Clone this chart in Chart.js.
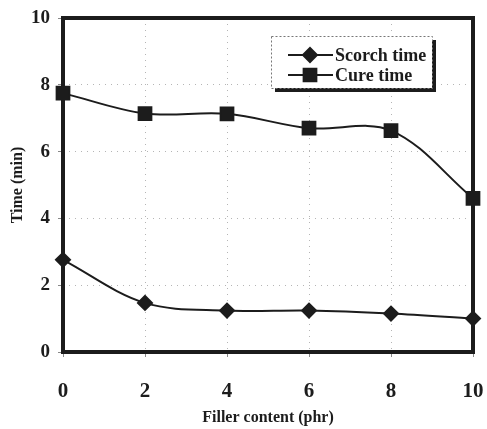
<!DOCTYPE html>
<html>
<head>
<meta charset="utf-8">
<script src="https://cdn.jsdelivr.net/npm/chart.js@4/dist/chart.umd.min.js"></script>
<style>
  html, body { margin: 0; padding: 0; background: #fff; }
  #wrap { width: 487px; height: 429px; }
</style>
</head>
<body>
<div id="wrap"><canvas id="c" width="487" height="429"></canvas></div>
<script>
const fillerContent = [0, 2, 4, 6, 8, 10];
const scorchTime = [2.76, 1.47, 1.24, 1.24, 1.15, 1.0];
const cureTime = [7.75, 7.14, 7.13, 6.70, 6.63, 4.60];
const yTicks = [0, 2, 4, 6, 8, 10];
const xTicks = [0, 2, 4, 6, 8, 10];

const serif = '"Liberation Serif", "Times New Roman", serif';
const ink = '#1c1c1c';

const toPoints = (xs, ys) => xs.map((x, i) => ({ x, y: ys[i] }));

// Thick plot frame plus the boxed legend with a drop shadow
const framePlugin = {
  id: 'frame',
  afterDatasetsDraw(chart) {
    const { ctx, chartArea: a } = chart;
    ctx.save();
    ctx.strokeStyle = ink;
    ctx.lineWidth = 4;
    ctx.strokeRect(a.left, a.top, a.right - a.left, a.bottom - a.top);
    ctx.restore();
  },
  afterDraw(chart) {
    const { ctx } = chart;
    const bx = 271, by = 36, bw = 161, bh = 52;
    ctx.save();
    ctx.fillStyle = ink;
    ctx.fillRect(bx + 4, by + 4, bw, bh);
    ctx.fillStyle = '#fff';
    ctx.fillRect(bx, by, bw, bh);
    ctx.setLineDash([2, 2]);
    ctx.strokeStyle = '#777';
    ctx.lineWidth = 1;
    ctx.strokeRect(bx + 0.5, by + 0.5, bw, bh);
    ctx.setLineDash([]);
    const rows = [55, 75];
    chart.data.datasets.forEach((ds, i) => {
      const y = rows[i];
      ctx.strokeStyle = ink;
      ctx.lineWidth = 2;
      ctx.beginPath();
      ctx.moveTo(288, y);
      ctx.lineTo(333, y);
      ctx.stroke();
      Chart.helpers.drawPoint(ctx, {
        pointStyle: ds.pointStyle,
        radius: ds.pointRadius,
        borderWidth: 1
      }, 310, y);
      ctx.fillStyle = ink;
      ctx.fill();
      ctx.font = 'bold 18px ' + serif;
      ctx.textBaseline = 'middle';
      ctx.fillText(ds.label, 335, y + 1);
    });
    ctx.restore();
  }
};

new Chart(document.getElementById('c'), {
  type: 'line',
  data: {
    datasets: [
      {
        label: 'Scorch time',
        data: toPoints(fillerContent, scorchTime),
        borderColor: ink,
        backgroundColor: ink,
        borderWidth: 2,
        pointStyle: 'rectRot',
        pointRadius: 7,
        pointHoverRadius: 7,
        tension: 0.35,
        clip: false
      },
      {
        label: 'Cure time',
        data: toPoints(fillerContent, cureTime),
        borderColor: ink,
        backgroundColor: ink,
        borderWidth: 2,
        pointStyle: 'rect',
        pointRadius: 9,
        pointHoverRadius: 9,
        tension: 0.35,
        clip: false
      }
    ]
  },
  options: {
    responsive: false,
    animation: false,
    events: [],
    layout: { padding: { top: 18, right: 14, bottom: 0, left: 0 } },
    plugins: { legend: { display: false }, tooltip: { enabled: false } },
    scales: {
      x: {
        type: 'linear',
        min: 0, max: 10,
        afterBuildTicks(s) { s.ticks = xTicks.map(v => ({ value: v })); },
        afterFit(s) { s.height = 77; s.paddingLeft = 0; s.paddingRight = 0; },
        ticks: {
          color: ink,
          padding: 22,
          font: { family: serif, size: 21, weight: 'bold' }
        },
        grid: {
          color: '#b5b5b5',
          lineWidth: 1,
          drawTicks: true,
          tickLength: 5,
          tickColor: '#888'
        },
        border: { display: false, dash: [1, 5] },
        title: {
          display: true,
          text: 'Filler content (phr)',
          color: ink,
          padding: { top: 4, bottom: 2 },
          font: { family: serif, size: 16, weight: 'bold' }
        }
      },
      y: {
        min: 0, max: 10,
        afterBuildTicks(s) { s.ticks = yTicks.map(v => ({ value: v })); },
        afterFit(s) { s.width = 63; s.paddingTop = 0; s.paddingBottom = 0; },
        ticks: {
          color: ink,
          padding: 8,
          font: { family: serif, size: 19, weight: 'bold' }
        },
        grid: {
          color: '#b5b5b5',
          lineWidth: 1,
          tickLength: 5,
          tickColor: '#888'
        },
        border: { display: false, dash: [1, 5] },
        title: {
          display: true,
          text: 'Time (min)',
          color: ink,
          padding: { top: 8, bottom: 0 },
          font: { family: serif, size: 16, weight: 'bold' }
        }
      }
    }
  },
  plugins: [framePlugin]
});
</script>
</body>
</html>
